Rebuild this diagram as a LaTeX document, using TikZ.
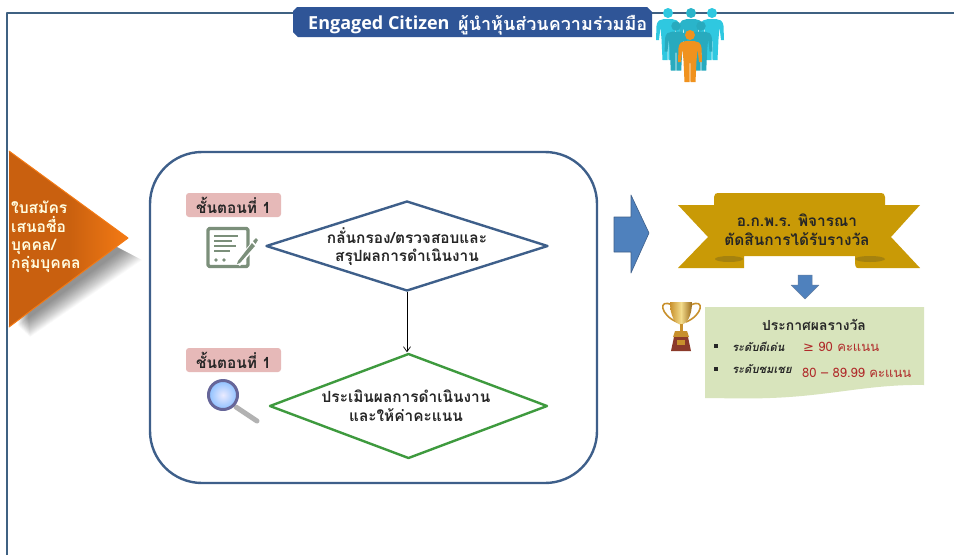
\documentclass[tikz,border=0pt]{standalone}
\usepackage{fontspec}
\newfontfamily\thaifont[Script=Thai]{Loma}
\newfontfamily\latinfont{Open Sans}
\newfontfamily\symbfont{DejaVu Sans}
\usetikzlibrary{shapes.geometric,arrows.meta}
\definecolor{frameblue}{HTML}{3F6182}
\definecolor{bannerblue}{HTML}{2F5597}
\definecolor{arrowblue}{HTML}{4F81BD}
\definecolor{boxblue}{HTML}{3E5F8A}
\definecolor{greenline}{HTML}{3E9A3E}
\definecolor{badgepink}{HTML}{E6B9B8}
\definecolor{ribbongold}{HTML}{C99A06}
\definecolor{ribbondark}{HTML}{A5820F}
\definecolor{docgreen}{HTML}{D8E4BC}
\definecolor{iconsage}{HTML}{7B8F7A}
\definecolor{figcyan}{HTML}{2FC8E0}
\definecolor{figorange}{HTML}{F0921E}
\definecolor{orangeA}{HTML}{F47A14}
\definecolor{orangeB}{HTML}{C9600F}
\definecolor{darkred}{HTML}{B02A2A}
\definecolor{goldA}{HTML}{C8902C}
\definecolor{goldB}{HTML}{F3DC8C}
\definecolor{goldC}{HTML}{9A6A1A}
\definecolor{baseRed}{HTML}{8B3A2A}
\tikzset{
 thaitext/.style={font=\thaifont\bfseries\fontsize{15.4}{18.5}\selectfont,text=black!85,align=center,inner sep=0pt},
 badge/.style={fill=badgepink,rounded corners=3pt,minimum width=95pt,minimum height=24pt,inner sep=0pt,font=\thaifont\bfseries\fontsize{15.4}{16}\selectfont,text=black!85},
 decision/.style={diamond,draw,line width=2.4pt,inner sep=0pt,minimum width=282pt,minimum height=90pt,shape aspect=3.13},
 framing/.style={draw=frameblue,line width=2.4pt},
 itemlabel/.style={font=\thaifont\bfseries\itshape\fontsize{11.2}{12}\selectfont,text=black!85,inner sep=0pt,anchor=west},
 scorelabel/.style={font=\thaifont\fontsize{13}{15}\selectfont,text=darkred,inner sep=0pt,anchor=west},
 bulletdot/.style={fill=black!85,minimum size=3.5pt,inner sep=0pt},
}
\newcommand{\figperson}[4]{%
 \begin{scope}[shift={(#1,#2)},scale=#3]
  \fill[#4] (0,0) circle (5);
  \fill[#4] (-4,6) -- (-9,7.5) .. controls (-11,9) and (-11,11) .. (-11.5,13) -- (-12,27) -- (-9,27) -- (-7.5,14) -- (-6.5,26) -- (-5.5,47) -- (-0.5,47) -- (-0.3,28) -- (0.3,28) -- (0.5,47) -- (5.5,47) -- (6.5,26) -- (7.5,14) -- (9,27) -- (12,27) -- (11.5,13) .. controls (11,11) and (11,9) .. (9,7.5) -- (4,6) -- cycle;
 \end{scope}}
\begin{document}
\begin{tikzpicture}[x=1pt,y=-1pt,line join=round]
\useasboundingbox (0,0) rectangle (954,555);
\fill[white] (0,0) rectangle (954,555);
% frame
\coordinate (fb) at (7,555); \coordinate (fc) at (7,13); \coordinate (fr) at (954,13);
\draw[framing] (fb) -- (fc) -- (fr);
% banner
\path[fill=bannerblue] (297,7) -- (647,7) -- (652,12) -- (652,37) -- (298,37) -- (293,32) -- (293,11) -- cycle;
\node[inner sep=0pt,anchor=west,text=white,font=\latinfont\bfseries\fontsize{18}{20}\selectfont] (titleA) at (308,25) {Engaged Citizen};
\node[inner sep=0pt,anchor=west,text=white,font=\thaifont\bfseries\fontsize{18}{20}\selectfont] (titleB) at (458,25) {ผู้นำหุ้นส่วนความร่วมมือ};
% people
\figperson{668}{13}{1}{figcyan}
\figperson{691}{13}{1}{figcyan!90!black}
\figperson{712}{13}{1}{figcyan}
\figperson{676}{26}{0.95}{figcyan!85!black}
\figperson{701}{26}{0.95}{figcyan!85!black}
\figperson{690}{35}{1}{figorange}
% orange triangle with soft shadow
\foreach \d in {0,1,...,20}{
 \fill[black,opacity=0.025] (20,195) -- (122+\d,250+\d*0.5) -- (18+\d*0.6,326+\d*0.55) -- cycle;
}
\path[left color=orangeB,right color=orangeA,middle color=orangeB] (9,151) -- (128,238) -- (9,327) -- cycle;
\draw[orangeA,line width=1pt] (9,151) -- (128,238) -- (9,327);
\node[inner sep=0pt,anchor=north west,align=left,text=yellow!12,font=\thaifont\bfseries\fontsize{15.6}{18.3}\selectfont] (applicant) at (11,201) {ใบสมัคร\\เสนอชื่อ\\บุคคล/\\กลุ่มบุคคล};
% big rounded box
\draw[draw=boxblue,line width=2.4pt,rounded corners=52pt] (150,152) rectangle (597,483);
% step badges
\node[badge] (badgeA) at (233.5,205) {ชั้นตอนที่ 1};
\node[badge] (badgeB) at (233.5,360) {ชั้นตอนที่ 1};
% document icon
\draw[iconsage,line width=3.4pt,rounded corners=1.5pt] (208,228.5) rectangle (248,266.5);
\draw[iconsage,line width=1.8pt] (214,236) -- (238,236) (214,241) -- (232,241) (214,246) -- (236,246) (214,251) -- (230,251);
\fill[iconsage] (216,260) circle (1.8) (224,260) circle (1.8);
\fill[white] (235,262) -- (257,236) -- (262,240) -- (240,266) -- cycle;
\fill[iconsage] (238,261) -- (252,243) -- (255,246) -- (240,263) -- (237,264) -- cycle;
\fill[iconsage] (253,241) -- (256,238) -- (258,240) -- (255.5,244) -- cycle;
% magnifier
\draw[line width=5pt,gray!60,line cap=round] (236,407) -- (257,421);
\shade[inner color=blue!8!white,outer color=cyan!45!blue!45] (223,395) circle (14.5);
\draw[line width=3pt,gray!80!blue] (223,395) circle (14.5);
% decisions
\node[decision,draw=boxblue] (checkD) at (407,246) {};
\node[decision,draw=greenline,minimum width=278pt,minimum height=105pt,shape aspect=2.65] (rateD) at (408.5,406) {};
\node[thaitext] (checkT) at (407,246.5) {กลั่นกรอง/ตรวจสอบและ\\สรุปผลการดำเนินงาน};
\node[thaitext] (rateT) at (406,405.5) {ประเมินผลการดำเนินงาน\\และให้ค่าคะแนน};
\draw[black,line width=0.7pt,-{Straight Barb[length=5pt,width=7pt]}] (checkD.south) -- (checkD.south |- rateD.north);
% big arrow
\path[fill=arrowblue,draw=boxblue,line width=0.6pt] (614,217) -- (631,217) -- (631,195) -- (649,233) -- (631,273) -- (631,252) -- (614,252) -- cycle;
% ribbon
\path[fill=ribbongold] (678,205) -- (714,205) -- (714,197) .. controls (714,194) and (716,193) .. (718,193) -- (881,193) .. controls (883,193) and (885,194) .. (885,197) -- (885,205) -- (920,205) -- (891,237) -- (920,268) -- (858,268) .. controls (855,268) and (855,266) .. (855,256) -- (744,256) -- (744,268) -- (678,268) -- (708,237) -- cycle;
\fill[ribbondark] (729,259) ellipse (14 and 3);
\fill[ribbondark] (870,259) ellipse (15 and 3);
\node[thaitext] (ribbonT) at (797,229.5) {อ.ก.พ.ร. พิจารณา\\ตัดสินการได้รับรางวัล};
% small arrow
\path[fill=arrowblue,draw=boxblue!80,line width=0.5pt] (798,275) -- (812,275) -- (812,285) -- (819,285) -- (805,299) -- (791,285) -- (798,285) -- cycle;
% result sheet
\path[fill=docgreen] (705,307) -- (924,307) -- (924,385) .. controls (870,384) and (830,396) .. (770,398) .. controls (745,399) and (720,398) .. (705,398) -- cycle;
\node[thaitext,font=\thaifont\bfseries\fontsize{13.9}{15}\selectfont] (resultT) at (814,325) {ประกาศผลรางวัล};
\node[bulletdot] (bulletA) at (716,346) {};
\node[bulletdot] (bulletB) at (716,369) {};
\node[itemlabel] (itemA) at (732,347) {ระดับดีเด่น};
\node[itemlabel] (itemB) at (732,369) {ระดับชมเชย};
\node[scorelabel] (scoreA) at (803,347) {{\symbfont ≥} 90 คะแนน};
\node[scorelabel] (scoreB) at (802,373) {80 – 89.99 คะแนน};
% trophy
\draw[line width=1.6pt,color=goldA] (672,305) .. controls (658,298) and (660,315) .. (677,322);
\draw[line width=1.6pt,color=goldA] (691,305) .. controls (705,298) and (703,315) .. (686,322);
\shade[left color=goldA,right color=goldC,middle color=goldB] (670,302) -- (692,302) .. controls (692,316) and (687,324) .. (681,325) .. controls (675,324) and (670,316) .. (670,302) -- cycle;
\fill[goldA] (679.5,324) rectangle (682.5,331);
\fill[goldA] (675,331) -- (687,331) -- (689,337) -- (673,337) -- cycle;
\fill[baseRed] (674,337) -- (688,337) -- (691,351) -- (671,351) -- cycle;
\fill[goldA] (677,340) rectangle (685,345);
\end{tikzpicture}
\end{document}
